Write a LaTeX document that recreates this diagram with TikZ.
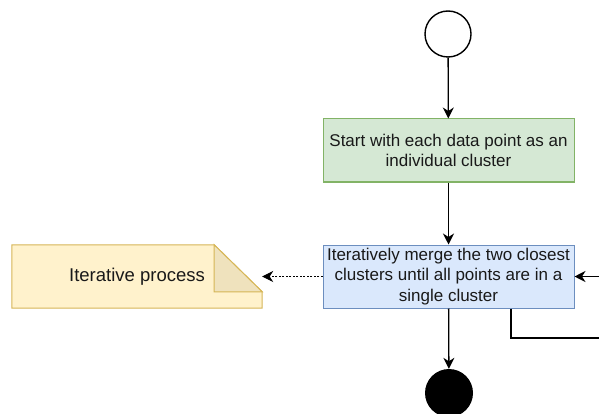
\documentclass[tikz,border=0pt]{standalone}
\usepackage{fontspec}
\setmainfont{Liberation Sans}
\usetikzlibrary{arrows.meta,positioning}
\definecolor{stepgreen}{HTML}{D5E8D4}
\definecolor{stepgreenline}{HTML}{82B366}
\definecolor{stepblue}{HTML}{DAE8FC}
\definecolor{stepblueline}{HTML}{6C8EBF}
\definecolor{noteyellow}{HTML}{FFF2CC}
\definecolor{noteline}{HTML}{D6B656}
\definecolor{notefold}{HTML}{EFE2BD}
\newcommand{\boxw}{251pt}
\newcommand{\boxh}{63pt}
\tikzset{
    boxsty/.style={draw,rectangle,line width=1pt,minimum width=\boxw,minimum height=\boxh,
                   align=center,inner sep=0pt,text=black!90,font=\fontsize{17}{20.5}\selectfont},
    gboxsty/.style={boxsty,fill=stepgreen,draw=stepgreenline},
    bboxsty/.style={boxsty,fill=stepblue,draw=stepblueline},
    notesty/.style={rectangle,minimum width=250pt,minimum height=\boxh,inner sep=0pt,
                    text=black!90,font=\fontsize{18.5}{22}\selectfont},
    startsty/.style={draw,circle,line width=1.4pt,minimum size=46pt,inner sep=0pt},
    stopsty/.style={fill=black,circle,minimum size=48pt,inner sep=0pt},
    arrsty/.style={->,line width=1.3pt},
}

\begin{document}
\begin{tikzpicture}[x=1pt,y=-1pt,>={Stealth[length=11pt,width=11pt,inset=3.5pt]}]
  \useasboundingbox (0,0) rectangle (599,414);
  \clip (0,0) rectangle (599,414);

  % flow
  \node[startsty] (start) at (448,34) {};
  \node[gboxsty]  (init)  at (448.5,150.5) {Start with each data point as an\\individual cluster};
  \node[bboxsty]  (merge) at (448.5,276.5) {Iteratively merge the two closest\\clusters until all points are in a\\single cluster};
  \node[stopsty]  (stop)  at (449,393) {};

  % note with folded corner
  \node[notesty] (note) at (137,276.5) {Iterative process};
  \draw[noteline,fill=noteyellow,line width=1pt]
    (note.north west) -- ([xshift=-48pt]note.north east) -- ([yshift=-47pt]note.north east)
    -- (note.south east) -- (note.south west) -- cycle;
  \draw[noteline,fill=notefold,line width=1pt]
    ([xshift=-48pt]note.north east) -- ([xshift=-48pt,yshift=-47pt]note.north east)
    -- ([yshift=-47pt]note.north east) -- cycle;
  \node[notesty] at (note) {Iterative process};

  \draw[arrsty] (start) -- (init);
  \draw[arrsty] (init) -- (merge);
  \draw[arrsty] (merge) -- (stop);
  \draw[->,line width=0.9pt,dash pattern=on 2pt off 1.5pt] (merge.west) -- (note.east);

  % loop back
  \coordinate (loopr) at (615,338);
  \draw[arrsty] ([xshift=62.5pt]merge.south) |- (loopr) |- (merge.east);
\end{tikzpicture}
\end{document}
